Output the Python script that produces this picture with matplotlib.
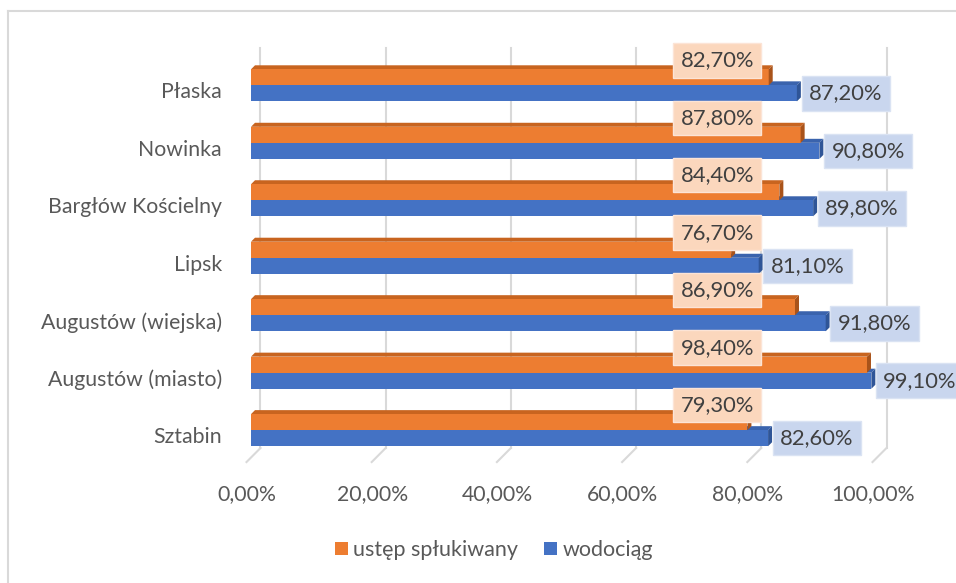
import numpy as np
import matplotlib
matplotlib.use("Agg")
import matplotlib.pyplot as plt
from matplotlib.patches import Patch, Polygon
from matplotlib.lines import Line2D
from matplotlib.transforms import ScaledTranslation

# ------------------------------------------------------
# Data (top to bottom as in the chart)
# ------------------------------------------------------
categories = ["Płaska", "Nowinka", "Bargłów Kościelny", "Lipsk",
              "Augustów (wiejska)", "Augustów (miasto)", "Sztabin"]
ustep = [82.7, 87.8, 84.4, 76.7, 86.9, 98.4, 79.3]
wodociag = [87.2, 90.8, 89.8, 81.1, 91.8, 99.1, 82.6]
series_names = ["ustęp spłukiwany", "wodociąg"]
xticks = [0, 20, 40, 60, 80, 100]

plt.rcParams["font.family"] = ["Lato", "DejaVu Sans"]

ORANGE = "#ED7D31"
ORANGE_TOP = "#C8641F"
ORANGE_SIDE = "#A9531A"
BLUE = "#4472C4"
BLUE_TOP = "#3A63AD"
BLUE_SIDE = "#2F5597"
GRID = "#d9d9d9"
TXT = "#595959"

W, H = 956, 583
fig = plt.figure(figsize=(W / 100, H / 100), dpi=100)

# axes area in pixels
x0, x1 = 251, 877
y_top, y_bot = 48, 448
ax = fig.add_axes([x0 / W, 1 - y_bot / H, (x1 - x0) / W, (y_bot - y_top) / H])

px_x = 100.0 / (x1 - x0)        # data units per pixel (x)
row = 57.3                      # pixels per category
px_y = 1.0 / row                # data units per pixel (y)

n = len(categories)
ypos = np.arange(n)[::-1]       # Płaska on top
h = 16 * px_y                   # bar thickness
dx, dy = 4 * px_x, 4 * px_y     # bar depth

ylo, yhi = -0.31, 6.65
ax.set_xlim(0, 100)
ax.set_ylim(ylo, yhi)

# back wall gridlines + floor ticks
gshift = 9.5 * px_x
for t in xticks:
    ax.plot([t + gshift, t + gshift], [ylo, yhi], color=GRID, lw=1.5, zorder=0, clip_on=False)
    ax.plot([t + gshift, t - 4.5 * px_x], [ylo, ylo - 14 * px_y], color=GRID, lw=1.5,
            zorder=0, clip_on=False)


def bar3d(v, yb, color, top, side):
    ax.barh(yb + h / 2, v, height=h, color=color, zorder=2, linewidth=0)
    ax.add_patch(Polygon([(0, yb + h), (v, yb + h), (v + dx, yb + h + dy), (dx, yb + h + dy)],
                         closed=True, fc=top, ec="none", zorder=1.5))
    ax.add_patch(Polygon([(v, yb), (v, yb + h), (v + dx, yb + h + dy), (v + dx, yb + dy)],
                         closed=True, fc=side, ec="none", zorder=2))


for y, u, w in zip(ypos, ustep, wodociag):
    bar3d(w, y - h, BLUE, BLUE_TOP, BLUE_SIDE)
    bar3d(u, y, ORANGE, ORANGE_TOP, ORANGE_SIDE)

    ax.text(74.5, y + 25 * px_y, f"{u:.2f}%".replace(".", ","), ha="center", va="center",
            fontsize=15.8, color="#404040", zorder=5,
            bbox=dict(boxstyle="square,pad=0.33", fc="#FBD7BD", ec="#FCE4D6", lw=1))
    ax.text(w + dx + 8 * px_x, y - 8 * px_y, f"{w:.2f}%".replace(".", ","), ha="left",
            va="center", fontsize=15.8, color="#404040", zorder=5,
            bbox=dict(boxstyle="square,pad=0.33", fc="#C9D6EE", ec="#DAE3F3", lw=1))

ax.set_xticks(xticks)
ax.set_xticklabels([f"{t:.2f}%".replace(".", ",") for t in xticks], fontsize=15.3, color=TXT)
ax.set_yticks(ypos)
ax.set_yticklabels(categories, fontsize=15.3, color=TXT)
ax.tick_params(axis="x", length=0, pad=26)
ax.tick_params(axis="y", length=0, pad=21)
for lbl in ax.get_xticklabels():
    lbl.set_transform(lbl.get_transform() + ScaledTranslation(-4 / 100, 0, fig.dpi_scale_trans))
for lbl in ax.get_yticklabels():
    lbl.set_transform(lbl.get_transform() + ScaledTranslation(0, -5 / 100, fig.dpi_scale_trans))
for s in ax.spines.values():
    s.set_visible(False)
ax.set_facecolor("none")

handles = [Patch(facecolor=ORANGE), Patch(facecolor=BLUE)]
fig.legend(handles, series_names, loc="center", bbox_to_anchor=(494 / W, 1 - 550 / H),
           ncol=2, frameon=False, fontsize=15.5, handlelength=0.6, handleheight=0.6,
           handletextpad=0.25, columnspacing=1.2, labelcolor=TXT)

# chart area border (left and top visible)
fig.add_artist(Line2D([8 / W, 8 / W], [0, 1 - 11 / H], color=GRID, lw=1.5))
fig.add_artist(Line2D([8 / W, 1], [1 - 11 / H, 1 - 11 / H], color=GRID, lw=1.5))

fig.savefig("out.png", dpi=100)
